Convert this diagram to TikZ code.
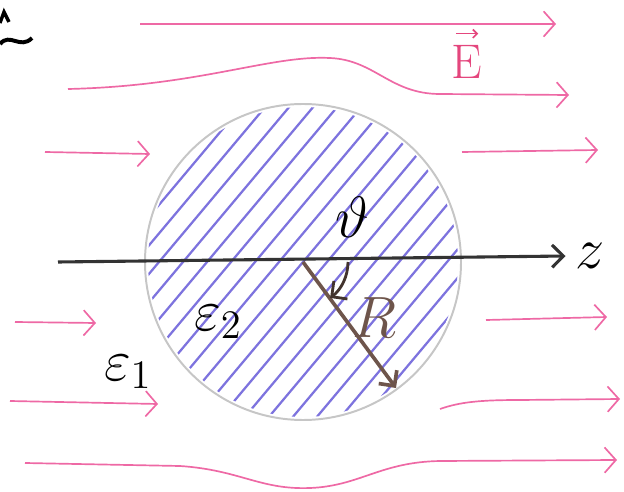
\documentclass[tikz,border=0pt]{standalone}
\usepackage{amsmath,amssymb}
\usepackage{xcolor}
\definecolor{fieldpink}{RGB}{238,105,165}
\definecolor{labelpink}{RGB}{228,70,125}
\definecolor{hatchblue}{RGB}{125,115,222}
\definecolor{radbrown}{RGB}{110,85,75}
\usepackage{tikz}
\usetikzlibrary{arrows.meta,calc}

\begin{document}
\begin{tikzpicture}[x=0.0125cm, y=-0.0125cm,
  fieldline/.style={draw=fieldpink, line width=0.6pt, -{Straight Barb[length=4pt,width=9pt]}},
  hatchline/.style={draw=hatchblue, line width=0.8pt},
  arrow/.style={-{Straight Barb[length=4pt,width=8pt]}, line width=1pt},
  symb/.style={font=\huge}
]
\useasboundingbox (0,0) rectangle (624,492);

% Top left marks
\draw[line width=1.2pt] (0,23) -- (4,12) -- (9,22);
\draw[line width=1.4pt] (0,44) .. controls (10,32) and (20,50) .. (32,38);

% Field lines
\draw[fieldline] (140,24) -- (556,24);
\draw[fieldline] (68,89) .. controls (200,86) and (270,55) .. (330,58)
  .. controls (375,60) and (390,94) .. (440,94) -- (569,95);
\draw[fieldline] (45,152) -- (150,154);
\draw[fieldline] (462,152) -- (598,150);
\draw[fieldline] (15,322) -- (96,323);
\draw[fieldline] (486,320) -- (607,317);
\draw[fieldline] (10,401) -- (158,404);
\draw[fieldline] (440,409) .. controls (460,402) and (480,400) .. (520,400) -- (620,399);
\draw[fieldline] (25,463) -- (180,466) .. controls (240,470) and (260,490) .. (310,488)
  .. controls (360,486) and (380,462) .. (440,461) -- (617,460);
\node[font=\LARGE, text=labelpink, inner sep=1pt] (E) at (467,62) {E};
\draw[labelpink, line width=0.6pt, -{Straight Barb[length=1.5pt,width=3pt]}]
  ([xshift=-4pt,yshift=3pt]E.north) -- ([xshift=4pt,yshift=3pt]E.north);

% Sphere with hatching
\coordinate (O) at (303,262);
\begin{scope}
\clip (O) circle[radius=155];
\foreach \d in {-360,-336,...,360}
  \draw[hatchline] ($(O)+(\d,0)+(-210,250)$) -- ++(420,-500);
\end{scope}
\draw[gray!45, line width=0.7pt] (O) circle[radius=158];

% Axis
\node[symb] (z) at (590,256) {$z$};
\coordinate (zstart) at (58,262);
\draw[arrow, black!80, line width=1.1pt] (zstart) -- (z.west);

% Radius and angle
\coordinate (Rend) at (396,388);
\draw[arrow, radbrown, line width=1.3pt] (O) -- (Rend);
\node[symb, text=radbrown] (R) at (374,318) {$R$};
\draw[arrow, radbrown!60!black, line width=1pt] ($(O)+(45,0)$) arc[start angle=0, end angle=53, radius=45];
\node[symb] (theta) at (352,217) {$\vartheta$};

% Media
\node[symb] (eps2) at (218,322) {$\varepsilon_2$};
\node[symb] (eps1) at (128,372) {$\varepsilon_1$};

\end{tikzpicture}
\end{document}
